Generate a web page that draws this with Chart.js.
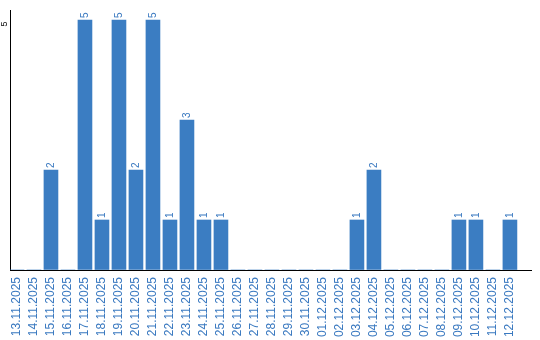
<!DOCTYPE html>
<html>
<head>
<meta charset="utf-8">
<script src="https://cdn.jsdelivr.net/npm/chart.js@4.4.0/dist/chart.umd.min.js"></script>
<style>
  html, body { margin: 0; padding: 0; background: #fff; }
  #wrap { width: 540px; height: 340px; }
</style>
</head>
<body>
<div id="wrap"><canvas id="daysChart" width="540" height="340"></canvas></div>
<script>
  const jours = ['13.11.2025', '14.11.2025', '15.11.2025', '16.11.2025', '17.11.2025', '18.11.2025',
    '19.11.2025', '20.11.2025', '21.11.2025', '22.11.2025', '23.11.2025', '24.11.2025', '25.11.2025',
    '26.11.2025', '27.11.2025', '28.11.2025', '29.11.2025', '30.11.2025', '01.12.2025', '02.12.2025',
    '03.12.2025', '04.12.2025', '05.12.2025', '06.12.2025', '07.12.2025', '08.12.2025', '09.12.2025',
    '10.12.2025', '11.12.2025', '12.12.2025'];
  const totaux = [0, 0, 2, 0, 5, 1, 5, 2, 5, 1, 3, 1, 1, 0, 0, 0, 0, 0, 0, 0, 1, 2, 0, 0, 0, 0, 1, 1, 0, 1];
  const yTicks = [5];

  const bleu = '#3b7dc2';
  const texteBleu = '#3a79c0';

  // valeurs au-dessus des barres + tick "5" vertical
  const labelsPlugin = {
    id: 'labelsPlugin',
    afterDatasetsDraw(chart) {
      const ctx = chart.ctx;
      const meta = chart.getDatasetMeta(0);
      ctx.save();
      ctx.font = '10px "Liberation Sans", Arial, sans-serif';
      ctx.fillStyle = texteBleu;
      ctx.textAlign = 'left';
      ctx.textBaseline = 'middle';
      meta.data.forEach((bar, i) => {
        if (!totaux[i]) return;
        ctx.save();
        ctx.translate(bar.x, bar.y - 2);
        ctx.rotate(-Math.PI / 2);
        ctx.fillText(String(totaux[i]), 0, 0);
        ctx.restore();
      });
      const y = chart.scales.y;
      ctx.fillStyle = '#000';
      ctx.font = '9px "Liberation Sans", Arial, sans-serif';
      ctx.textAlign = 'center';
      yTicks.forEach(v => {
        ctx.save();
        ctx.translate(y.right - 5, y.getPixelForValue(v) + 4);
        ctx.rotate(-Math.PI / 2);
        ctx.fillText(String(v), 0, 0);
        ctx.restore();
      });
      ctx.restore();
    }
  };

  new Chart(document.getElementById('daysChart').getContext('2d'), {
    type: 'bar',
    data: {
      labels: jours,
      datasets: [{
        data: totaux,
        backgroundColor: bleu,
        barThickness: 14
      }]
    },
    options: {
      responsive: false,
      animation: false,
      layout: { padding: { left: 10, right: 9, top: 10, bottom: 0 } },
      plugins: { legend: { display: false }, tooltip: { enabled: false } },
      scales: {
        x: {
          offset: true,
          grid: { display: false, drawTicks: false },
          border: { color: '#000', width: 1 },
          ticks: {
            color: texteBleu,
            font: { family: '"Liberation Sans", Arial, sans-serif', size: 12 },
            minRotation: 90, maxRotation: 90,
            padding: 7,
            autoSkip: false
          },
          // axe plus long que les catégories (marge à droite)
          afterBuildTicks: s => { s._valueRange = jours.length + 0.65; s._startValue = -0.41; },
          afterFit: s => { s.height = 70; }
        },
        y: {
          min: 0, max: 5.2,
          ticks: { display: false, stepSize: 5 },
          grid: {
            drawTicks: false,
            color: c => (c.tick && c.tick.value === 5) ? '#c8c8c8' : 'rgba(0,0,0,0)'
          },
          border: { color: '#000', width: 1 },
          afterFit: s => { s.width = 0; }
        }
      }
    },
    plugins: [labelsPlugin]
  });
</script>
</body>
</html>
